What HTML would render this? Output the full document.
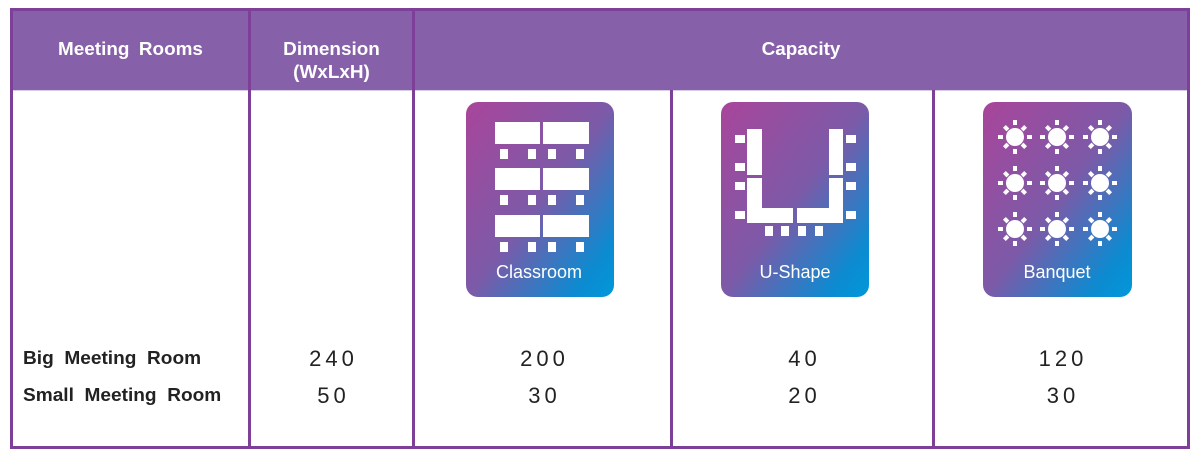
<!DOCTYPE html>
<html><head><meta charset="utf-8"><style>
body{margin:0;width:1199px;height:457px;background:#fff;position:relative;overflow:hidden;font-family:"Liberation Sans",Arial,sans-serif}
.a{position:absolute}
.v{position:absolute;background:#7e3f98;width:3px}
.h{position:absolute;background:#7e3f98;height:3px}
.hd{position:absolute;color:#fff;font-weight:bold;font-size:18px;text-align:center;line-height:23px;transform:scaleX(1.05)}
.lb{position:absolute;left:23px;font-weight:bold;font-size:18px;color:#222;word-spacing:5px;transform-origin:0 0;transform:scaleX(1.06)}
.n{position:absolute;font-family:"Liberation Sans",sans-serif;font-size:22px;color:#222;text-align:center;letter-spacing:4px;text-indent:4px}
</style></head><body>
<div class="a" style="left:11px;top:9px;width:1177px;height:81px;background:#8660a8"></div>
<div class="a" style="left:11px;top:90px;width:1177px;height:1px;background:#d9cde6"></div>
<div class="h" style="left:10px;top:8px;width:1180px"></div>
<div class="h" style="left:10px;top:446px;width:1180px"></div>
<div class="v" style="left:10px;top:8px;height:441px"></div>
<div class="v" style="left:1187px;top:8px;height:441px"></div>
<div class="v" style="left:248px;top:8px;height:441px"></div>
<div class="v" style="left:412px;top:8px;height:441px"></div>
<div class="v" style="left:670px;top:90px;height:359px"></div>
<div class="v" style="left:932px;top:90px;height:359px"></div>
<div class="hd" style="left:13px;width:235px;top:38px;word-spacing:4px">Meeting Rooms</div>
<div class="hd" style="left:251px;width:161px;top:38px">Dimension<br>(WxLxH)</div>
<div class="hd" style="left:415px;width:772px;top:38px">Capacity</div>

<svg class="a" style="left:0;top:0" width="1199" height="457">
<defs><linearGradient id="g" x1="0" y1="0" x2="1" y2="1">
<stop offset="0" stop-color="#a9459a"/><stop offset="0.5" stop-color="#7c5aa8"/><stop offset="0.85" stop-color="#0d8ad0"/><stop offset="1" stop-color="#0098da"/></linearGradient></defs>
<rect x="466" y="102" width="148" height="195" rx="12" fill="url(#g)"/>
<rect x="721" y="102" width="148" height="195" rx="12" fill="url(#g)"/>
<rect x="983" y="102" width="149" height="195" rx="12" fill="url(#g)"/>
<g fill="#fff">
<rect x="495" y="122" width="45" height="22"/><rect x="543" y="122" width="46" height="22"/>
<rect x="495" y="168" width="45" height="22"/><rect x="543" y="168" width="46" height="22"/>
<rect x="495" y="215" width="45" height="22"/><rect x="543" y="215" width="46" height="22"/>
<g id="ch"><rect x="500" y="149" width="8" height="10"/><rect x="528" y="149" width="8" height="10"/><rect x="548" y="149" width="8" height="10"/><rect x="576" y="149" width="8" height="10"/></g>
<use href="#ch" y="46"/><use href="#ch" y="93"/>
<rect x="747" y="129" width="15" height="46"/><rect x="747" y="178" width="15" height="45"/><rect x="762" y="208" width="31" height="15"/>
<rect x="829" y="129" width="14" height="46"/><rect x="829" y="178" width="14" height="45"/><rect x="797" y="208" width="32" height="15"/>
<rect x="735" y="135" width="10" height="8"/><rect x="735" y="163" width="10" height="8"/><rect x="735" y="182" width="10" height="8"/><rect x="735" y="211" width="10" height="8"/>
<rect x="846" y="135" width="10" height="8"/><rect x="846" y="163" width="10" height="8"/><rect x="846" y="182" width="10" height="8"/><rect x="846" y="211" width="10" height="8"/>
<rect x="765" y="226" width="8" height="10"/><rect x="781" y="226" width="8" height="10"/><rect x="798" y="226" width="8" height="10"/><rect x="815" y="226" width="8" height="10"/>
</g>
<defs><g id="sun" fill="#fff"><circle r="9"/>
<rect x="-2" y="-17" width="4" height="5"/><rect x="-2" y="12" width="4" height="5"/><rect x="-17" y="-2" width="5" height="4"/><rect x="12" y="-2" width="5" height="4"/>
<rect x="-2" y="-15" width="4" height="5" transform="rotate(45)"/><rect x="-2" y="10" width="4" height="5" transform="rotate(45)"/><rect x="-15" y="-2" width="5" height="4" transform="rotate(45)"/><rect x="10" y="-2" width="5" height="4" transform="rotate(45)"/></g></defs>
<use href="#sun" x="1015" y="137"/><use href="#sun" x="1057" y="137"/><use href="#sun" x="1100" y="137"/>
<use href="#sun" x="1015" y="183"/><use href="#sun" x="1057" y="183"/><use href="#sun" x="1100" y="183"/>
<use href="#sun" x="1015" y="229"/><use href="#sun" x="1057" y="229"/><use href="#sun" x="1100" y="229"/>
<g fill="#fff" font-family="Liberation Sans, sans-serif" font-size="18" text-anchor="middle" style="font-weight:300">
<text x="539" y="278">Classroom</text><text x="795" y="278">U-Shape</text><text x="1057" y="278">Banquet</text></g>
</svg>

<div class="lb" style="top:348px">Big Meeting Room</div>
<div class="lb" style="top:385px">Small Meeting Room</div>
<div class="n" style="left:251px;width:161px;top:346px">240</div>
<div class="n" style="left:251px;width:161px;top:383px">50</div>
<div class="n" style="left:415px;width:255px;top:346px">200</div>
<div class="n" style="left:415px;width:255px;top:383px">30</div>
<div class="n" style="left:673px;width:259px;top:346px">40</div>
<div class="n" style="left:673px;width:259px;top:383px">20</div>
<div class="n" style="left:935px;width:252px;top:346px">120</div>
<div class="n" style="left:935px;width:252px;top:383px">30</div>
</body></html>
